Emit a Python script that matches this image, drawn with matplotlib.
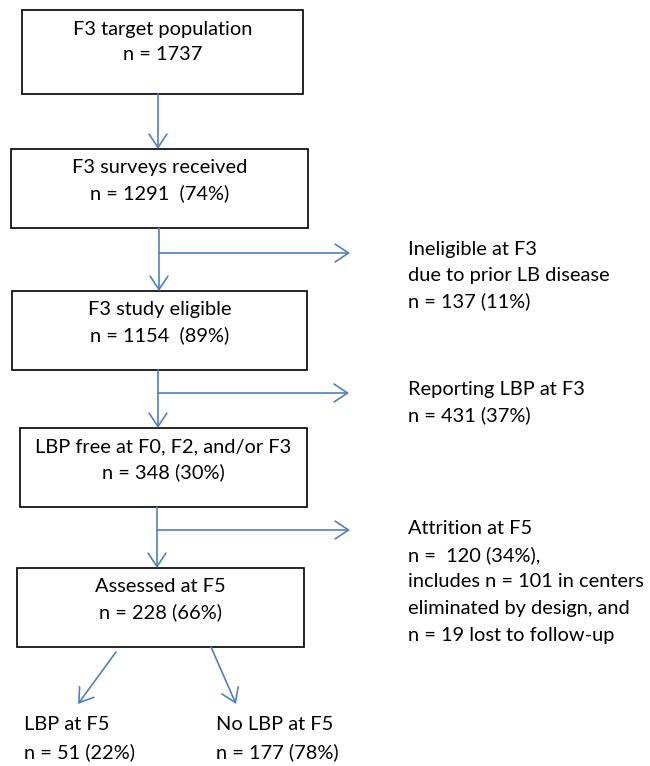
import matplotlib.pyplot as plt
from matplotlib.patches import Rectangle, FancyArrowPatch

plt.rcParams['font.family'] = ['Lato', 'DejaVu Sans']

# box contents (title, count line)
box_titles = ["F3 target population", "F3 surveys received", "F3 study eligible",
              "LBP free at F0, F2, and/or F3", "Assessed at F5"]
box_counts = ["n = 1737", "n = 1291  (74%)", "n = 1154  (89%)",
              "n = 348 (30%)", "n = 228 (66%)"]

# exclusions branching off to the right
side_texts = [
    ["Ineligible at F3", "due to prior LB disease", "n = 137 (11%)"],
    ["Reporting LBP at F3", "n = 431 (37%)"],
    ["Attrition at F5", "n =  120 (34%),", "includes n = 101 in centers",
     "eliminated by design, and", "n = 19 lost to follow-up"],
]

# final outcomes
outcome_titles = ["LBP at F5", "No LBP at F5"]
outcome_counts = ["n = 51 (22%)", "n = 177 (78%)"]

# layout in pixels (x0, x1, y0, y1)
boxes = [(22, 303, 10, 94), (11, 308, 149, 228), (12, 307, 291, 370),
         (20, 307, 428, 507), (17, 304, 568, 647)]
trunk_x = [158, 159, 158, 157]
branch_y = [253, 393, 530]
branch_end = [350, 349, 350]
side_pos = [(408, 249), (408, 389), (408, 528)]
line_gap = [26, 26, 26.8]
outcome_pos = [(24, 724), (216, 724)]
outcome_arrows = [((116, 652), (78, 704)), ((211, 647), (236, 704))]

blue = '#4F81BD'
fs = 14.4

fig = plt.figure(figsize=(6.5, 7.66), dpi=100)
ax = fig.add_axes([0, 0, 1, 1])
ax.set_xlim(0, 650)
ax.set_ylim(766, 0)
ax.axis('off')


def arrow(p0, p1):
    ax.add_patch(FancyArrowPatch(p0, p1, arrowstyle='->,head_length=6,head_width=4',
                                 color=blue, lw=1.2, shrinkA=0, shrinkB=0,
                                 mutation_scale=1.6))


for i, (x0, x1, y0, y1) in enumerate(boxes):
    ax.add_patch(Rectangle((x0, y0), x1 - x0, y1 - y0, fill=False,
                           edgecolor='black', lw=1.2))
    cx = (x0 + x1) / 2
    ax.text(cx, y0 + 19, box_titles[i], ha='center', va='center', fontsize=fs)
    ax.text(cx, y0 + 44, box_counts[i], ha='center', va='center', fontsize=fs)

# trunk arrows between boxes
for i in range(4):
    arrow((trunk_x[i], boxes[i][3]), (trunk_x[i], boxes[i + 1][2]))

# branches to the right
for i in range(3):
    x = trunk_x[i + 1]
    arrow((x, branch_y[i]), (branch_end[i], branch_y[i]))
    sx, sy = side_pos[i]
    for j, line in enumerate(side_texts[i]):
        ax.text(sx, sy + j * line_gap[i], line, ha='left', va='center', fontsize=fs)

# split into outcomes
for i in range(2):
    arrow(*outcome_arrows[i])
    ox, oy = outcome_pos[i]
    ax.text(ox, oy, outcome_titles[i], ha='left', va='center', fontsize=fs)
    ax.text(ox, oy + 28, outcome_counts[i], ha='left', va='center', fontsize=fs)

fig.savefig('out.png', dpi=100)
